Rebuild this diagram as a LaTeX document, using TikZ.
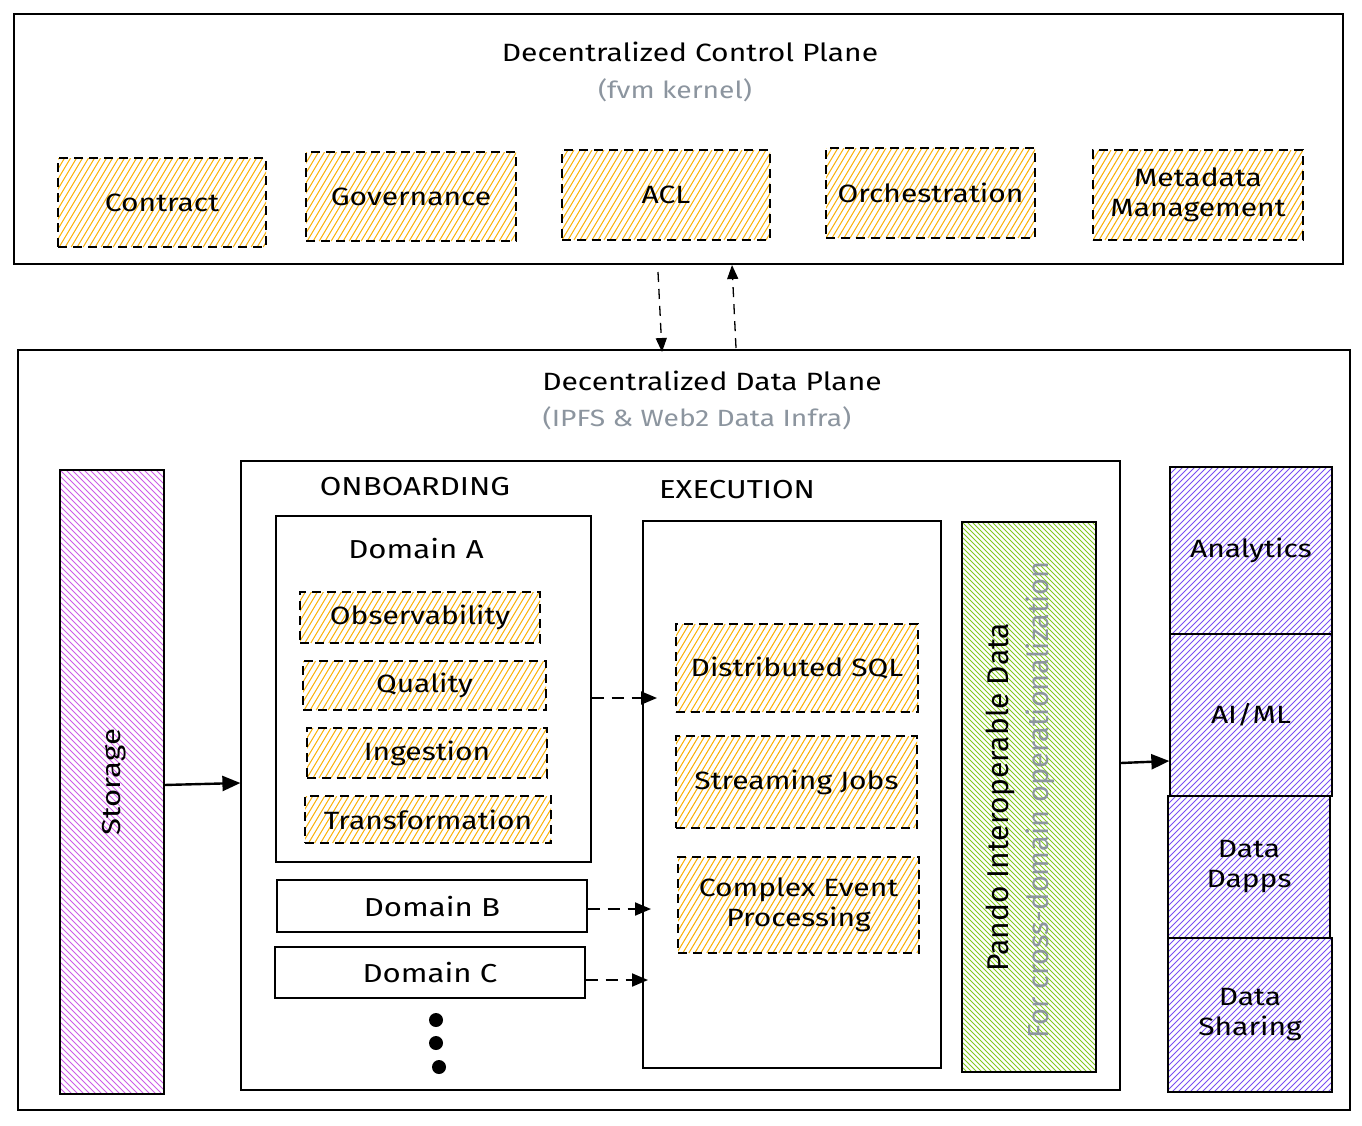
\documentclass[tikz,border=0pt]{standalone}
\usepackage{fontspec}
\setmainfont[FakeStretch=1.2]{Fira Sans}
\newfontfamily\plainsans{Fira Sans}
\usetikzlibrary{arrows.meta,fit}
\definecolor{hy}{HTML}{FAB005}
\definecolor{hp}{HTML}{7950F2}
\definecolor{hm}{HTML}{CC5DE8}
\definecolor{hg}{HTML}{82C91E}
\definecolor{gtxt}{HTML}{8C959F}
% #1 x1, #2 y1, #3 x2, #4 y2, #5 colour, #6 direction (1 = "/", -1 = "\"), #7 horizontal run per unit height, #8 spacing
\newcommand\hatchfill[8]{%
  \begin{scope}
    \clip (#1,#2) rectangle (#3,#4);
    \pgfmathsetmacro\hh{#4-#2}%
    \pgfmathsetmacro\ww{#3-#1}%
    \pgfmathsetmacro\ext{\hh*#7}%
    \pgfmathsetmacro\nn{int((\ww+2*\ext)/#8)+1}%
    \foreach \i in {0,...,\nn}{%
      \draw[#5, line width=1pt] (#1-\ext+\i*#8, #2) -- ++(-#6*\ext, \hh);
    }%
  \end{scope}%
}
\tikzset{
  outer/.style={draw, line width=2.2pt, inner sep=0pt},
  frame/.style={draw, line width=1.2pt, inner sep=0pt},
  yel/.style={draw, dashed, dash pattern=on 9pt off 6pt, line width=1.3pt, inner sep=0pt},
  solbox/.style={draw, line width=1.3pt, inner sep=0pt},
  lbl/.style={font=\fontsize{25}{30}\selectfont, align=center},
  ttl/.style={font=\fontsize{25}{30}\selectfont},
  sub/.style={font=\fontsize{23.5}{28}\selectfont, text=gtxt},
  hdr/.style={font=\fontsize{26}{30}\selectfont},
  pandotxt/.style={font=\plainsans\fontsize{30}{34}\selectfont},
  pandosub/.style={font=\plainsans\fontsize{29}{34}\selectfont, text=gtxt},
  dsh/.style={dashed, dash pattern=on 12pt off 8pt, line width=2pt, -{Triangle[length=16pt,width=13pt]}},
  dshthin/.style={dashed, dash pattern=on 10pt off 7pt, line width=1.3pt, -{Triangle[length=14pt,width=11pt]}},
  sol/.style={line width=2.4pt, -{Triangle[length=18pt,width=15pt]}},
  dot/.style={circle, fill, inner sep=0pt, minimum size=14pt}
}
\begin{document}
\begin{tikzpicture}[x=1pt,y=-1pt]
\useasboundingbox (0,0) rectangle (1362,1125);
\fill[white] (0,0) rectangle (1362,1125);

% control plane
\node[outer, fit={(14,14) (1343,264)}] (cp) {};
\node[ttl] (cpt) at (690,52) {Decentralized Control Plane};
\node[sub] (cps) at (675,90) {(fvm kernel)};
\hatchfill{58}{158}{266}{247}{hy}{1}{0.6}{6}
\node[yel, fit={(58,158) (266,247)}] (contract) {};
\node[lbl] at (contract.center) {Contract};
\hatchfill{306}{152}{516}{241}{hy}{1}{0.6}{6}
\node[yel, fit={(306,152) (516,241)}] (gov) {};
\node[lbl] at (gov.center) {Governance};
\hatchfill{562}{150}{770}{240}{hy}{1}{0.6}{6}
\node[yel, fit={(562,150) (770,240)}] (acl) {};
\node[lbl] at (acl.center) {ACL};
\hatchfill{826}{148}{1035}{238}{hy}{1}{0.6}{6}
\node[yel, fit={(826,148) (1035,238)}] (orch) {};
\node[lbl] at (orch.center) {Orchestration};
\hatchfill{1093}{150}{1303}{240}{hy}{1}{0.6}{6}
\node[yel, fit={(1093,150) (1303,240)}] (meta) {};
\node[lbl] at (meta.center) {Metadata\\Management};

% data plane
\node[outer, fit={(18,350) (1350,1110)}] (dp) {};
\node[ttl] (dpt) at (712,381) {Decentralized Data Plane};
\node[sub] (dps) at (697,418) {(IPFS \& Web2 Data Infra)};

\coordinate (a1s) at (658,272);
\coordinate (a1e) at (662,352);
\coordinate (a2s) at (736,348);
\coordinate (a2e) at (732,265);
\draw[dshthin] (a1s) -- (a1e);
\draw[dshthin] (a2s) -- (a2e);

% storage
\hatchfill{60}{470}{164}{1094}{hm}{-1}{1}{6}
\node[solbox, fit={(60,470) (164,1094)}] (storage) {};
\node[rotate=90, hdr] (storaget) at (114,782) {Storage};

% inner box
\node[frame, fit={(241,461) (1120,1090)}] (inner) {};
\draw[sol] (164,785) -- (inner.west |- 0,783);
\node[hdr] (onb) at (415,487) {ONBOARDING};
\node[hdr] (exe) at (737,490) {EXECUTION};

% domain A
\node[frame, fit={(276,516) (591,862)}] (doma) {};
\node[hdr] (domat) at (416,549) {Domain A};
\hatchfill{300}{592}{540}{643}{hy}{1}{0.6}{6}
\node[yel, fit={(300,592) (540,643)}] (obs) {};
\node[lbl] at (obs.center) {Observability};
\hatchfill{303}{661}{546}{710}{hy}{1}{0.6}{6}
\node[yel, fit={(303,661) (546,710)}] (qual) {};
\node[lbl] at (qual.center) {Quality};
\hatchfill{307}{728}{547}{778}{hy}{1}{0.6}{6}
\node[yel, fit={(307,728) (547,778)}] (ing) {};
\node[lbl] at (ing.center) {Ingestion};
\hatchfill{305}{796}{551}{843}{hy}{1}{0.6}{6}
\node[yel, fit={(305,796) (551,843)}] (trans) {};
\node[lbl] at (trans.center) {Transformation};
\node[solbox, fit={(277,880) (587,932)}] (domb) {};
\node[hdr] at (domb.center) {Domain B};
\node[solbox, fit={(275,947) (585,998)}] (domc) {};
\node[hdr] at (domc.center) {Domain C};
\node[dot] (d1) at (436,1020) {};
\node[dot] (d2) at (436,1043) {};
\node[dot] (d3) at (439,1067) {};

% execution
\node[frame, fit={(643,521) (941,1068)}] (exec) {};
\hatchfill{676}{624}{918}{712}{hy}{1}{0.6}{6}
\node[yel, fit={(676,624) (918,712)}] (dsql) {};
\node[lbl] at (dsql.center) {Distributed SQL};
\hatchfill{676}{736}{917}{828}{hy}{1}{0.6}{6}
\node[yel, fit={(676,736) (917,828)}] (stream) {};
\node[lbl] at (stream.center) {Streaming Jobs};
\hatchfill{678}{857}{919}{953}{hy}{1}{0.6}{6}
\node[yel, fit={(678,857) (919,953)}] (cep) {};
\node[lbl] at (cep.center) {Complex Event\\Processing};

\coordinate (ea) at (657,698);
\coordinate (eb) at (651,909);
\coordinate (ec) at (648,980);
\draw[dsh] (doma.east |- ea) -- (ea);
\draw[dsh] (domb.east |- eb) -- (eb);
\draw[dsh] (domc.east |- ec) -- (ec);

% pando
\hatchfill{962}{522}{1096}{1072}{hg}{-1}{1}{5}
\node[solbox, fit={(962,522) (1096,1072)}] (pando) {};
\node[rotate=90, pandotxt] (pandot) at (1000,797) {Pando Interoperable Data};
\node[rotate=90, pandosub] (pandos) at (1040,800) {For cross-domain operationalization};

% consumers
\hatchfill{1170}{467}{1332}{634}{hp}{1}{1}{6}
\node[solbox, fit={(1170,467) (1332,634)}] (ana) {};
\node[lbl] at (ana.center) {Analytics};
\hatchfill{1170}{634}{1332}{796}{hp}{1}{1}{6}
\node[solbox, fit={(1170,634) (1332,796)}] (aiml) {};
\node[lbl] at (aiml.center) {AI/ML};
\hatchfill{1168}{796}{1330}{938}{hp}{1}{1}{6}
\node[solbox, fit={(1168,796) (1330,938)}] (dapps) {};
\node[lbl] at (dapps.center) {Data\\Dapps};
\hatchfill{1168}{938}{1332}{1092}{hp}{1}{1}{6}
\node[solbox, fit={(1168,938) (1332,1092)}] (share) {};
\node[lbl] at (share.center) {Data\\Sharing};

\draw[sol] (inner.east |- 0,763) -- (aiml.west |- 0,761);
\end{tikzpicture}
\end{document}
